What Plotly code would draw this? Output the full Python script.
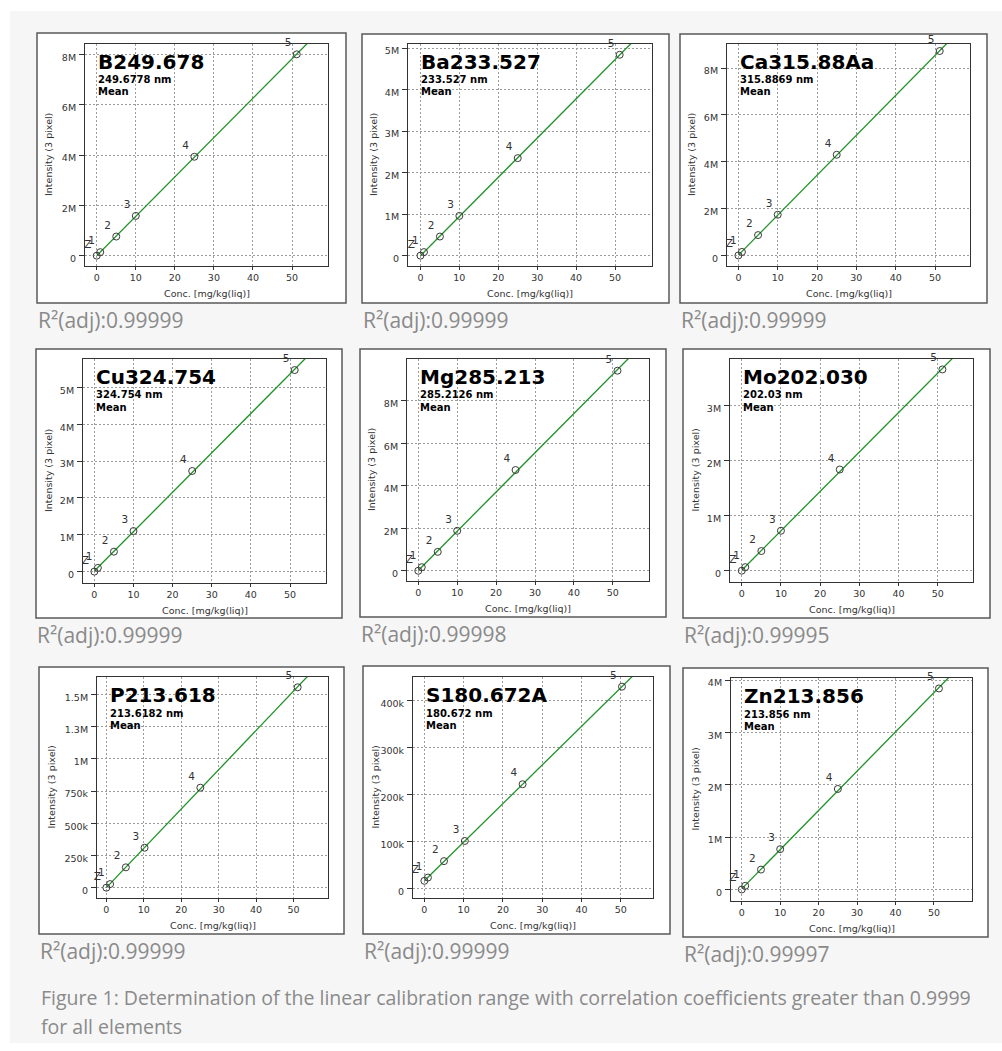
import numpy as np
import plotly.graph_objects as go

W, H = 1002, 1051

# ---------------- data ----------------
element_names = ["B249.678", "Ba233.527", "Ca315.88Aa",
                 "Cu324.754", "Mg285.213", "Mo202.030",
                 "P213.618", "S180.672A", "Zn213.856"]
wavelength_labels = ["249.6778 nm", "233.527 nm", "315.8869 nm",
                     "324.754 nm", "285.2126 nm", "202.03 nm",
                     "213.6182 nm", "180.672 nm", "213.856 nm"]
r2_labels = ["R²(adj):0.99999", "R²(adj):0.99999", "R²(adj):0.99999",
             "R²(adj):0.99999", "R²(adj):0.99998", "R²(adj):0.99995",
             "R²(adj):0.99999", "R²(adj):0.99999", "R²(adj):0.99997"]
point_labels = ["Z", "1", "2", "3", "4", "5"]

B_conc = [0, 0.9, 5.0, 10.0, 25.0, 51.2]
B_int = [0, 0.14e6, 0.76e6, 1.58e6, 3.93e6, 8.00e6]
Ba_conc = [0, 0.9, 5.0, 10.0, 25.0, 51.2]
Ba_int = [0, 0.085e6, 0.46e6, 0.957e6, 2.35e6, 4.84e6]
Ca_conc = [0, 0.9, 5.0, 10.0, 25.0, 51.2]
Ca_int = [0, 0.15e6, 0.87e6, 1.74e6, 4.30e6, 8.73e6]
Cu_conc = [0, 0.9, 5.0, 10.0, 25.0, 51.2]
Cu_int = [0, 0.10e6, 0.54e6, 1.10e6, 2.73e6, 5.47e6]
Mg_conc = [0, 0.9, 5.0, 10.0, 25.0, 51.2]
Mg_int = [0, 0.17e6, 0.89e6, 1.88e6, 4.74e6, 9.41e6]
Mo_conc = [0, 0.9, 5.0, 10.0, 25.0, 51.2]
Mo_int = [0, 0.065e6, 0.358e6, 0.727e6, 1.84e6, 3.66e6]
P_conc = [0, 1.0, 5.2, 10.2, 25.1, 51.1]
P_int = [0, 0.028e6, 0.158e6, 0.31e6, 0.776e6, 1.555e6]
S_conc = [0, 0.9, 5.0, 10.3, 25.0, 50.3]
S_int = [16e3, 23e3, 58e3, 101e3, 222e3, 430e3]
Zn_conc = [0, 0.9, 5.0, 10.0, 25.0, 51.3]
Zn_int = [0, 0.07e6, 0.38e6, 0.77e6, 1.92e6, 3.84e6]

x_tickvals = [0, 10, 20, 30, 40, 50]
B_yticks = [0, 2e6, 4e6, 6e6, 8e6]
B_yticktext = ["0", "2M", "4M", "6M", "8M"]
Ba_yticks = [0, 1e6, 2e6, 3e6, 4e6, 5e6]
Ba_yticktext = ["0", "1M", "2M", "3M", "4M", "5M"]
Ca_yticks = [0, 2e6, 4e6, 6e6, 8e6]
Ca_yticktext = ["0", "2M", "4M", "6M", "8M"]
Cu_yticks = [0, 1e6, 2e6, 3e6, 4e6, 5e6]
Cu_yticktext = ["0", "1M", "2M", "3M", "4M", "5M"]
Mg_yticks = [0, 2e6, 4e6, 6e6, 8e6]
Mg_yticktext = ["0", "2M", "4M", "6M", "8M"]
Mo_yticks = [0, 1e6, 2e6, 3e6]
Mo_yticktext = ["0", "1M", "2M", "3M"]
P_yticks = [0, 250e3, 500e3, 750e3, 1e6, 1.25e6, 1.5e6]
P_yticktext = ["0", "250k", "500k", "750k", "1M", "1.3M", "1.5M"]
S_yticks = [0, 100e3, 200e3, 300e3, 400e3]
S_yticktext = ["0", "100k", "200k", "300k", "400k"]
Zn_yticks = [0, 1e6, 2e6, 3e6, 4e6]
Zn_yticktext = ["0", "1M", "2M", "3M", "4M"]

concs = [B_conc, Ba_conc, Ca_conc, Cu_conc, Mg_conc, Mo_conc, P_conc, S_conc, Zn_conc]
ints = [B_int, Ba_int, Ca_int, Cu_int, Mg_int, Mo_int, P_int, S_int, Zn_int]
yticks = [B_yticks, Ba_yticks, Ca_yticks, Cu_yticks, Mg_yticks, Mo_yticks, P_yticks, S_yticks, Zn_yticks]
ytexts = [B_yticktext, Ba_yticktext, Ca_yticktext, Cu_yticktext, Mg_yticktext,
          Mo_yticktext, P_yticktext, S_yticktext, Zn_yticktext]

# ---------------- layout (pixel positions) ----------------
boxes = [(37, 33, 346, 303), (362, 34, 669, 303), (680, 34, 987, 303),
         (36, 349, 342, 618), (360, 349, 666, 617), (683, 349, 990, 618),
         (39, 667, 344, 934), (363, 666, 670, 934), (683, 668, 988, 937)]
plots = [(85, 44, 328, 266), (408, 44, 652, 266), (727, 44, 970, 266),
         (83, 359, 326, 583), (407, 359, 649, 581), (730, 359, 973, 582),
         (97, 677, 328, 898), (413, 677, 653, 898), (731, 678, 972, 901)]
xranges = [(-3.0, 59.2), (-3.2, 59.5), (-2.9, 58.9),
           (-2.9, 59.2), (-2.9, 59.3), (-3.0, 59.0),
           (-2.5, 59.2), (-2.9, 58.2), (-2.8, 59.9)]
yranges = [(-0.41e6, 8.41e6), (-0.25e6, 5.10e6), (-0.45e6, 9.03e6),
           (-0.31e6, 5.77e6), (-0.48e6, 9.96e6), (-0.205e6, 3.85e6),
           (-0.08e6, 1.635e6), (-20.6e3, 450.6e3), (-0.22e6, 4.04e6)]

GREEN = "#1f9227"
DARK = "#333333"
AX_FONT = dict(family="DejaVu Sans", size=9.5, color=DARK)


def fx(x):
    return x / W


def fy(y):
    return 1 - y / H


fig = go.Figure()
shapes = []
annotations = []

# page background
shapes.append(dict(type="rect", xref="paper", yref="paper", x0=fx(10), x1=fx(1002),
                   y0=fy(1043), y1=fy(11), fillcolor="#f6f6f6", line=dict(width=0),
                   layer="below"))

for i in range(9):
    k = i + 1
    xa, ya = f"x{k}", f"y{k}"
    bx0, by0, bx1, by1 = boxes[i]
    px0, py0, px1, py1 = plots[i]

    shapes.append(dict(type="rect", xref="paper", yref="paper",
                       x0=fx(bx0), x1=fx(bx1), y0=fy(by1), y1=fy(by0),
                       fillcolor="white", line=dict(color="#5a5a5a", width=1.5),
                       layer="below"))

    xs = np.array(concs[i], dtype=float)
    ys = np.array(ints[i], dtype=float)
    slope, icpt = np.polyfit(xs, ys, 1)
    xfit = np.array([xs.min(), xranges[i][1]])
    fig.add_trace(go.Scatter(x=xfit, y=slope * xfit + icpt, mode="lines",
                             line=dict(color=GREEN, width=1.3),
                             xaxis=xa, yaxis=ya, showlegend=False, hoverinfo="skip"))
    fig.add_trace(go.Scatter(x=xs, y=ys, mode="markers+text",
                             marker=dict(symbol="circle-open", size=7,
                                         color="#3a3a3a", line=dict(width=1)),
                             text=point_labels, textposition="top left",
                             textfont=dict(family="DejaVu Sans", size=10.5, color=DARK),
                             cliponaxis=False,
                             xaxis=xa, yaxis=ya, showlegend=False))

    common = dict(showgrid=True, gridcolor="#9c9c9c", griddash="2px,2px", gridwidth=1,
                  showline=True, mirror=True, linecolor=DARK, linewidth=1,
                  zeroline=False, ticks="outside", tickcolor=DARK,
                  tickfont=AX_FONT, fixedrange=True)
    fig.update_layout({
        f"xaxis{k}": dict(domain=[fx(px0), fx(px1)], range=list(xranges[i]),
                          anchor=ya, tickvals=x_tickvals, ticklen=3, **common),
        f"yaxis{k}": dict(domain=[fy(py1), fy(py0)], range=list(yranges[i]),
                          anchor=xa, tickvals=yticks[i], ticktext=ytexts[i],
                          ticklen=5, ticklabelshift=3, ticklabelstandoff=1, **common),
    })

    # titles inside plot
    annotations.append(dict(xref="paper", yref="paper", x=fx(px0 + 11), y=fy(py0 + 18),
                            xanchor="left", yanchor="middle", showarrow=False,
                            text=f"<b>{element_names[i]}</b>",
                            font=dict(family="DejaVu Sans", size=20, color="black")))
    annotations.append(dict(xref="paper", yref="paper", x=fx(px0 + 11), y=fy(py0 + 36),
                            xanchor="left", yanchor="middle", showarrow=False,
                            text=f"<b>{wavelength_labels[i]}</b>",
                            font=dict(family="DejaVu Sans", size=10, color="black")))
    annotations.append(dict(xref="paper", yref="paper", x=fx(px0 + 11), y=fy(py0 + 48),
                            xanchor="left", yanchor="middle", showarrow=False,
                            text="<b>Mean</b>",
                            font=dict(family="DejaVu Sans", size=10, color="black")))
    # axis titles
    annotations.append(dict(xref="paper", yref="paper", x=fx((px0 + px1) / 2), y=fy(py1 + 27),
                            xanchor="center", yanchor="middle", showarrow=False,
                            text="Conc. [mg/kg(liq)]", font=AX_FONT))
    annotations.append(dict(xref="paper", yref="paper", x=fx(bx0 + 12), y=fy((py0 + py1) / 2),
                            xanchor="center", yanchor="middle", showarrow=False,
                            textangle=-90, text="Intensity (3 pixel)", font=AX_FONT))
    # R2 label
    annotations.append(dict(xref="paper", yref="paper", x=fx(bx0 - 1), y=fy(by1 + 17),
                            xanchor="left", yanchor="middle", showarrow=False,
                            text=r2_labels[i],
                            font=dict(family="Open Sans", size=21, color="#8a8a8a")))

caption_lines = ["Figure 1: Determination of the linear calibration range with correlation coefficients greater than 0.9999",
                 "for all elements"]
annotations.append(dict(xref="paper", yref="paper", x=fx(39), y=fy(997),
                        xanchor="left", yanchor="middle", showarrow=False,
                        text=caption_lines[0],
                        font=dict(family="Open Sans", size=19.5, color="#8a8a8a")))
annotations.append(dict(xref="paper", yref="paper", x=fx(39), y=fy(1026),
                        xanchor="left", yanchor="middle", showarrow=False,
                        text=caption_lines[1],
                        font=dict(family="Open Sans", size=19.5, color="#8a8a8a")))

fig.update_layout(width=W, height=H, margin=dict(l=0, r=0, t=0, b=0),
                  paper_bgcolor="white", plot_bgcolor="white",
                  shapes=shapes, annotations=annotations, showlegend=False)

fig.write_html("out.html", config={"displayModeBar": False},
               post_script="document.body.style.margin='0';document.body.style.overflow='hidden';")
